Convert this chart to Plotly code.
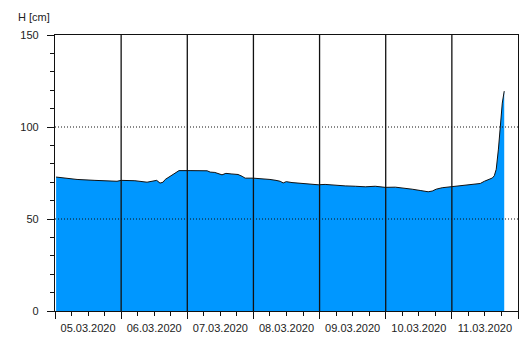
import plotly.graph_objects as go
import pandas as pd

# hours since 05.03.2020 00:00 and water level H [cm]
hours = [0.4, 3.6, 8, 14.5, 20, 22.5, 24, 29, 33.4, 35.2, 36.9, 38.1, 39.2, 40, 41, 42.5,
         43.9, 45, 49, 55.2, 56.3, 58, 60.6, 62, 63.9, 66.4, 67.9, 69, 71.9, 75.2, 78,
         80.2, 81.7, 82.8, 83.9, 86, 89, 92.6, 95.5, 98, 101.7, 105.3, 109, 112.6, 116.2,
         119.8, 123.5, 127, 129.6, 132.5, 135.4, 136.9, 138.3, 140.5, 143.4, 146.3, 149.2,
         152.1, 154.3, 155.8, 157.2, 158.7, 159.4, 160.1, 160.9, 161.6, 162.3, 163]
levels = [72.8, 72.3, 71.5, 71.0, 70.6, 70.5, 71.0, 70.8, 70.0, 70.5, 71.0, 69.5, 70.0, 71.5,
          72.5, 73.8, 75.5, 76.3, 76.3, 76.2, 75.5, 75.3, 74.0, 74.8, 74.5, 74.2, 73.2, 72.2,
          72.2, 72.0, 71.5, 71.0, 70.5, 69.6, 70.3, 69.8, 69.5, 69.0, 68.6, 68.8, 68.2, 68.0,
          67.8, 67.5, 67.8, 67.2, 67.3, 66.8, 66.2, 65.5, 64.8, 65.2, 66.2, 67.0, 67.5, 67.8,
          68.5, 68.6, 69.3, 70.5, 71.5, 72.3, 73.5, 77.0, 88.0, 102.0, 113.0, 119.5]

start = pd.Timestamp("2020-03-05 00:00")
times = [start + pd.Timedelta(hours=h) for h in hours]
days = pd.date_range("2020-03-05", "2020-03-12", freq="D")
grid_levels = [50, 100]

fig = go.Figure()
fig.add_trace(go.Scatter(
    x=times, y=levels, mode="lines", fill="tozeroy",
    fillcolor="#0097FF", line=dict(color="#111111", width=1),
    hoverinfo="x+y", showlegend=False,
))

shapes = []
for d in days[1:-1]:
    shapes.append(dict(type="line", xref="x", yref="paper", x0=d, x1=d, y0=0, y1=1,
                       line=dict(color="#111111", width=1.3), layer="above"))
for g in grid_levels:
    shapes.append(dict(type="line", xref="paper", yref="y", x0=0, x1=1, y0=g, y1=g,
                       line=dict(color="#111111", width=1, dash="1px,2px"), layer="above"))

font = dict(family="Liberation Sans, Arial, sans-serif", size=11, color="#222222")

fig.update_layout(
    width=532, height=339,
    margin=dict(l=55, r=14, t=35, b=28, autoexpand=False),
    paper_bgcolor="white", plot_bgcolor="white",
    font=font,
    shapes=shapes,
    xaxis=dict(
        type="date", range=[days[0], days[-1]],
        tick0=days[0], dtick=86400000, tickformat="%d.%m.%Y",
        ticklabelmode="period", automargin=False,
        ticks="outside", ticklen=7, tickcolor="#111111", tickwidth=1,
        minor=dict(dtick=6 * 3600000, ticks="outside", ticklen=4, tickcolor="#111111", showgrid=False),
        showgrid=False, zeroline=False,
        showline=True, linecolor="#111111", linewidth=1.3, mirror=True,
    ),
    yaxis=dict(
        range=[0, 150], tick0=0, dtick=50, automargin=False,
        ticks="outside", ticklen=7, tickcolor="#111111", tickwidth=1,
        minor=dict(dtick=10, ticks="outside", ticklen=4, tickcolor="#111111", showgrid=False),
        ticklabelstandoff=6,
        showgrid=False, zeroline=False,
        showline=True, linecolor="#111111", linewidth=1.3, mirror=True,
    ),
    annotations=[dict(text="H [cm]", xref="paper", yref="paper", x=-0.085, y=1.035,
                      xanchor="left", yanchor="bottom", showarrow=False, font=font)],
)

fig.write_html("out.html")
